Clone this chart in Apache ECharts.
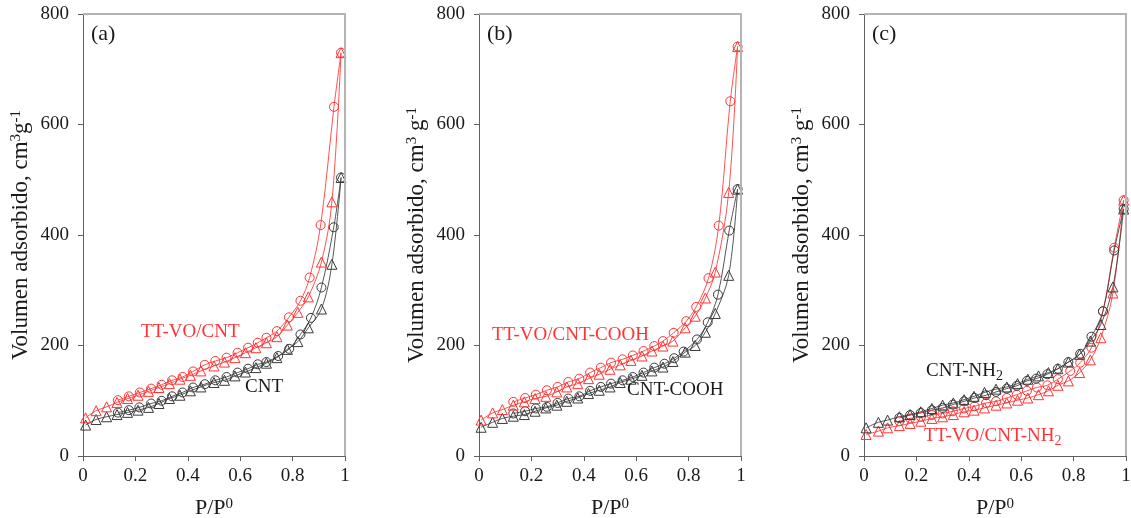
<!DOCTYPE html>
<html>
<head>
<meta charset="utf-8">
<script src="https://cdn.jsdelivr.net/npm/echarts@6/dist/echarts.min.js"></script>
<style>
  html, body { margin: 0; padding: 0; background: #fff; }
  #chart { width: 1131px; height: 518px; }
</style>
</head>
<body>
<div id="chart"></div>
<script>
// N2 adsorption/desorption isotherms, three panels
// (a) CNT vs TT-VO/CNT
const adsP_a = [0.01,0.05,0.09,0.13,0.17,0.21,0.25,0.29,0.33,0.37,0.41,0.45,0.50,0.54,0.58,0.62,0.66,0.70,0.74,0.78,0.82,0.86,0.91,0.95,0.985];
const cntAds_a = [56,66,71,75,79,83,88,95,104,110,118,125,133,137,145,152,160,168,178,193,207,232,266,347,504];
const ttAds_a = [69,82,89,97,104,110,117,124,131,139,146,154,163,170,178,187,196,205,216,237,260,288,351,460,730];
const ttDesP_a = [0.985,0.958,0.907,0.865,0.83,0.786,0.74,0.70,0.667,0.63,0.59,0.548,0.505,0.465,0.42,0.38,0.34,0.30,0.26,0.217,0.175,0.133];
const ttDes_a = [730,632,418,323,281,251,226,214,205,196,187,178,172,165,153,143,137,129,122,115,108,101];
const cntDesP_a = [0.985,0.957,0.91,0.87,0.83,0.787,0.745,0.70,0.667,0.63,0.59,0.548,0.505,0.465,0.42,0.38,0.34,0.30,0.26,0.215,0.175,0.133];
const cntDes_a = [504,414,305,250,220,194,181,170,166,158,151,143,137,130,124,115,108,100,95,88,83,78.5];

// (b) CNT-COOH vs TT-VO/CNT-COOH
const adsP_b = [0.008,0.052,0.089,0.131,0.173,0.214,0.255,0.297,0.335,0.377,0.418,0.459,0.5,0.539,0.58,0.622,0.66,0.702,0.74,0.787,0.825,0.864,0.902,0.953,0.987];
const ttAds_b = [65,78,84,92,98,104,108,116,125,131,140,148,157,165,173,181,190,199,208,232,253,286,333,477,741];
const ttDesP_b = [0.987,0.959,0.915,0.876,0.829,0.791,0.743,0.702,0.669,0.628,0.587,0.548,0.504,0.465,0.424,0.383,0.341,0.30,0.259,0.217,0.176,0.131];
const ttDes_b = [741,642,417,322,270,244,223,208,199,190,182,175,169,160,151,140,134,125,119,111,105,98];
const cntAds_b = [52,61,68,72,75,81,87,92,99,105,113,119,125,133,139,146,154,161,171,188,200,224,258,327,483];
const cntDesP_b = [0.987,0.955,0.912,0.873,0.832,0.781,0.745,0.708,0.669,0.628,0.587,0.548,0.504,0.465,0.424,0.383,0.341,0.30,0.259,0.217,0.176,0.131];
const cntDes_b = [483,408,292,242,211,189,177,167,160,151,143,137,131,125,118,108,104,96,89,86,81,77];

// (c) CNT-NH2 vs TT-VO/CNT-NH2
const adsP_c = [0.008,0.055,0.09,0.135,0.176,0.217,0.259,0.30,0.341,0.382,0.42,0.46,0.504,0.545,0.586,0.625,0.666,0.704,0.74,0.78,0.823,0.864,0.904,0.95,0.991];
const cntAds_c = [51,61,65,71,75,80,86,92,96,102,108,115,121,125,131,139,145,151,158,170,184,208,238,306,447];
const cntDesP_c = [0.991,0.955,0.912,0.868,0.825,0.78,0.74,0.70,0.657,0.622,0.583,0.545,0.504,0.466,0.422,0.382,0.339,0.30,0.259,0.217,0.176,0.135];
const cntDes_c = [447,372,262,216,185,170,158,148,140,136,127,122,116,110,105,99,93,87,83,78,74,69];
const ttAds_c = [39,45,51,55,59,63,68,71,75,80,83,87,92,96,101,105,111,118,128,136,151,174,214,295,463];
const ttDesP_c = [0.991,0.955,0.912,0.868,0.825,0.787,0.74,0.70,0.66,0.622,0.583,0.545,0.504,0.466,0.422,0.382,0.339,0.30,0.259,0.217,0.176,0.135];
const ttDes_c = [463,377,262,196,169,154,139,128,124,118,111,105,99,96,90,86,81,77,74,71,68,63];

const xTicks = [0, 0.2, 0.4, 0.6, 0.8, 1];
const yTicks = [0, 200, 400, 600, 800];

const RED = '#ff3333';
const BLACK = '#3a3a3a';
const FONT = '"Liberation Serif", "Times New Roman", serif';

const zip = (xs, ys) => xs.map((x, i) => [x, ys[i]]);

const grids = [
  { left: 83, top: 14, width: 262, height: 442, outerBoundsMode: 'none' },
  { left: 479, top: 14, width: 262, height: 442, outerBoundsMode: 'none' },
  { left: 864, top: 14, width: 262, height: 442, outerBoundsMode: 'none' }
];

const yNames = [
  'Volumen adsorbido, cm{sup|3}g{sup|-1}',
  'Volumen adsorbido, cm{sup|3} g{sup|-1}',
  'Volumen adsorbido, cm{sup|3} g{sup|-1}'
];

const axisLine = { show: true, lineStyle: { color: '#606060', width: 1 } };
const axisTick = { show: true, inside: false, length: 5, lineStyle: { color: '#606060', width: 1 } };

const xAxes = grids.map((g, i) => ({
  type: 'value', gridIndex: i, min: 0, max: 1, interval: 0.2,
  axisLine, axisTick, splitLine: { show: false },
  axisLabel: { fontFamily: FONT, fontSize: 19, color: '#1a1a1a', margin: 11,
    formatter: v => String(+v.toFixed(1)) },
  name: 'P/P{sup|0}', nameLocation: 'middle', nameGap: 41,
  nameTextStyle: { fontFamily: FONT, fontSize: 22, color: '#1a1a1a',
    rich: { sup: { fontFamily: FONT, fontSize: 15, color: '#1a1a1a', verticalAlign: 'top', lineHeight: 14 } } }
}));

const yAxes = grids.map((g, i) => ({
  type: 'value', gridIndex: i, min: 0, max: 800, interval: 200,
  axisLine, axisTick, splitLine: { show: false },
  axisLabel: { fontFamily: FONT, fontSize: 19, color: '#1a1a1a', margin: 14 },
  name: yNames[i], nameLocation: 'middle', nameGap: 51,
  nameTextStyle: { fontFamily: FONT, fontSize: 23, color: '#1a1a1a',
    rich: { sup: { fontFamily: FONT, fontSize: 15, color: '#1a1a1a', verticalAlign: 'top', lineHeight: 15 } } }
}));

function curve(idx, data, color, symbol) {
  return {
    type: 'line', xAxisIndex: idx, yAxisIndex: idx, data,
    smooth: 0.35,
    symbol, symbolSize: symbol === 'triangle' ? 10 : 9,
    showAllSymbol: true, clip: false, animation: false,
    lineStyle: { color, width: 1, opacity: 0.85 },
    itemStyle: { color: 'rgba(0,0,0,0)', borderColor: color, borderWidth: 1 }
  };
}

const series = [
  curve(0, zip(adsP_a, cntAds_a), BLACK, 'triangle'),
  curve(0, zip(cntDesP_a, cntDes_a), BLACK, 'circle'),
  curve(0, zip(adsP_a, ttAds_a), RED, 'triangle'),
  curve(0, zip(ttDesP_a, ttDes_a), RED, 'circle'),
  curve(1, zip(adsP_b, cntAds_b), BLACK, 'triangle'),
  curve(1, zip(cntDesP_b, cntDes_b), BLACK, 'circle'),
  curve(1, zip(adsP_b, ttAds_b), RED, 'triangle'),
  curve(1, zip(ttDesP_b, ttDes_b), RED, 'circle'),
  curve(2, zip(adsP_c, ttAds_c), RED, 'triangle'),
  curve(2, zip(ttDesP_c, ttDes_c), RED, 'circle'),
  curve(2, zip(adsP_c, cntAds_c), BLACK, 'triangle'),
  curve(2, zip(cntDesP_c, cntDes_c), BLACK, 'circle')
];

// Panel letters and sample labels
const label = (x, y, text, color, size) => ({
  type: 'text', left: x, top: y, z: 100,
  style: {
    text, fill: color, font: size + 'px ' + FONT,
    rich: { sub: { fontFamily: FONT, fontSize: 14, fill: color, verticalAlign: 'bottom', padding: [9, 0, 0, 0] } }
  }
});

const graphic = [
  label(91, 23, '(a)', '#1a1a1a', 22),
  label(487, 23, '(b)', '#1a1a1a', 22),
  label(872, 23, '(c)', '#1a1a1a', 22),
  label(141, 323, 'TT-VO/CNT', RED, 19),
  label(245, 378, 'CNT', '#1a1a1a', 19),
  label(492, 326, 'TT-VO/CNT-COOH', RED, 19),
  label(627, 381, 'CNT-COOH', '#1a1a1a', 19),
  label(926, 362, 'CNT-NH{sub|2}', '#1a1a1a', 19),
  label(924, 427, 'TT-VO/CNT-NH{sub|2}', RED, 19)
];

// Light frame on the top and right sides of each plot
grids.forEach(g => {
  graphic.push({
    type: 'polyline', z: 5, silent: true,
    shape: { points: [[g.left, g.top], [g.left + g.width, g.top], [g.left + g.width, g.top + g.height]] },
    style: { stroke: '#b4b4b4', lineWidth: 2, fill: null }
  });
});

const chart = echarts.init(document.getElementById('chart'), null, { renderer: 'canvas' });
chart.setOption({
  backgroundColor: '#fff',
  animation: false,
  grid: grids,
  xAxis: xAxes,
  yAxis: yAxes,
  series,
  graphic
});
</script>
</body>
</html>
